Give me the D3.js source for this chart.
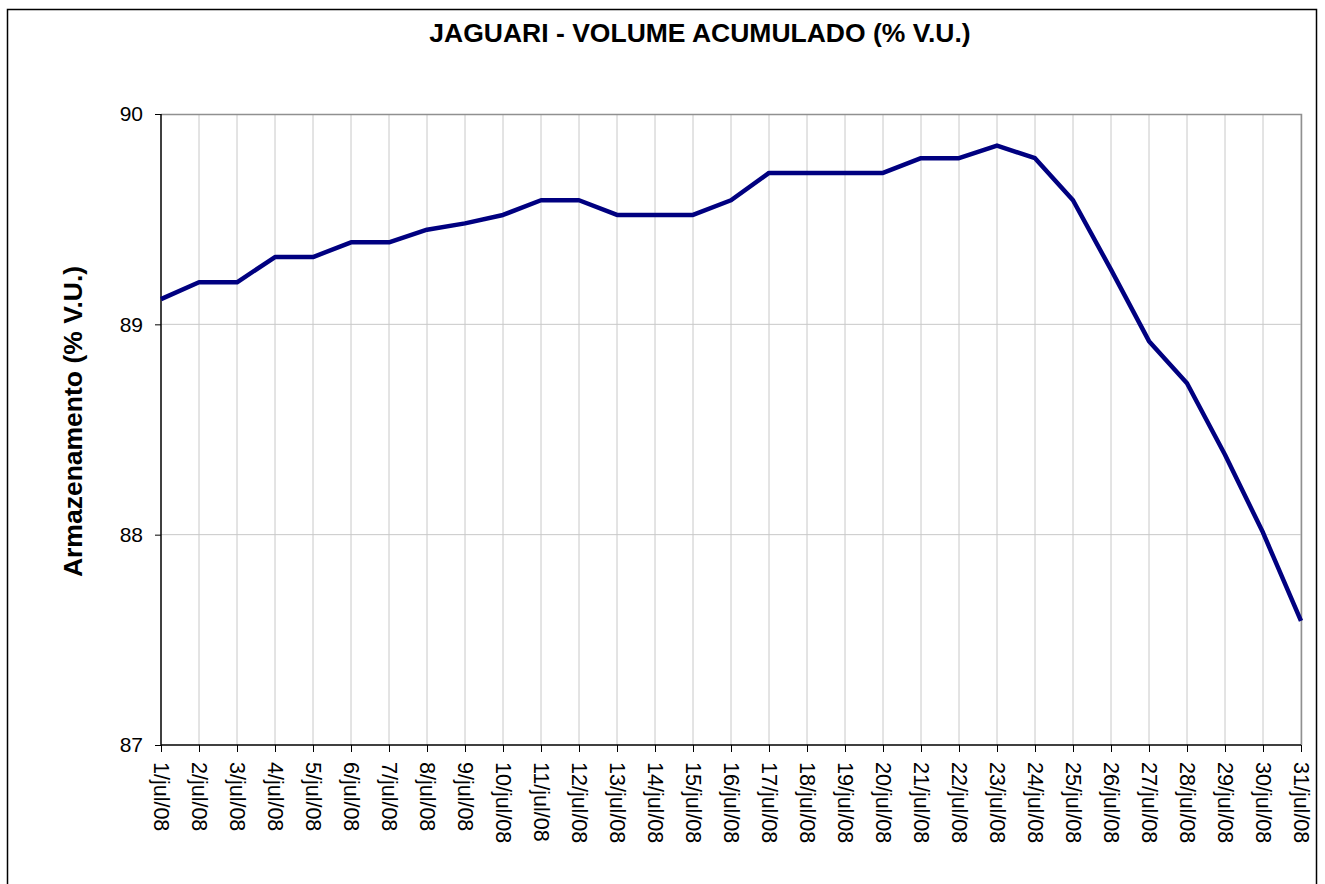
<!DOCTYPE html>
<html>
<head>
<meta charset="utf-8">
<script src="https://cdn.jsdelivr.net/npm/d3@7"></script>
<style>
  body { margin: 0; background: #fff; }
  text { font-family: Arial, "Liberation Sans", sans-serif; }
</style>
</head>
<body>
<div id="chart"></div>
<script>
// data
var days = [];
for (var d = 1; d <= 31; d++) days.push(d + "/jul/08");

var volume = [89.12, 89.20, 89.20, 89.32, 89.32, 89.39, 89.39, 89.45, 89.48, 89.52,
              89.59, 89.59, 89.52, 89.52, 89.52, 89.59, 89.72, 89.72, 89.72, 89.72,
              89.79, 89.79, 89.85, 89.79, 89.59, 89.26, 88.92, 88.72, 88.38, 88.01,
              87.59];

var yTicks = [87, 88, 89, 90];

var width = 1325, height = 884;
var plotLeft = 161, plotRight = 1301, plotTop = 114, plotBottom = 745;

var svg = d3.select("#chart").append("svg")
    .attr("width", width)
    .attr("height", height);

// outer frame
svg.append("rect")
    .attr("x", 7.5).attr("y", 9.5)
    .attr("width", 1309).attr("height", 900)
    .attr("fill", "none")
    .attr("stroke", "#000")
    .attr("stroke-width", 1.5);

var x = d3.scalePoint().domain(days).range([plotLeft, plotRight]);
var y = d3.scaleLinear().domain([87, 90]).range([plotBottom, plotTop]);

// grid
svg.append("g").selectAll("line")
    .data(days.slice(1))
    .enter().append("line")
      .attr("x1", function(e) { return x(e); })
      .attr("x2", function(e) { return x(e); })
      .attr("y1", plotTop).attr("y2", plotBottom)
      .attr("stroke", "#c8c8c8");

svg.append("g").selectAll("line")
    .data([88, 89])
    .enter().append("line")
      .attr("x1", plotLeft).attr("x2", plotRight)
      .attr("y1", function(v) { return y(v); })
      .attr("y2", function(v) { return y(v); })
      .attr("stroke", "#c8c8c8");

// plot area top / right border
svg.append("path")
    .attr("d", "M" + plotLeft + "," + (plotTop + 0.5) + "H" + (plotRight + 0.5) + "V" + plotBottom)
    .attr("fill", "none")
    .attr("stroke", "#909090")
    .attr("stroke-width", 1.5);

// axes
var yAxis = svg.append("g")
    .attr("transform", "translate(" + plotLeft + ",0)")
    .call(d3.axisLeft(y).tickValues(yTicks).tickSize(6).tickPadding(12).tickFormat(d3.format("d")));
yAxis.selectAll("text").attr("font-size", "21px").attr("fill", "#000").style("font-family", "Arial, 'Liberation Sans', sans-serif");
yAxis.select(".domain").attr("d", "M0," + plotTop + "V" + plotBottom).attr("stroke", "#000").attr("stroke-width", 1.5);

var xAxis = svg.append("g")
    .attr("transform", "translate(0," + plotBottom + ")")
    .call(d3.axisBottom(x).tickSize(7).tickPadding(0));
xAxis.select(".domain").attr("d", "M" + plotLeft + ",0H" + plotRight).attr("stroke", "#000").attr("stroke-width", 1.5);
xAxis.selectAll("text")
    .attr("font-size", "21.5px")
    .attr("fill", "#000")
    .style("font-family", "Arial, 'Liberation Sans', sans-serif")
    .attr("text-anchor", "start")
    .attr("dy", "0.35em")
    .attr("transform", "translate(0,17) rotate(90)")
    .attr("x", 0).attr("y", 0);

// series line
var line = d3.line()
    .x(function(v, i) { return x(days[i]); })
    .y(function(v) { return y(v); });

svg.append("path")
    .datum(volume)
    .attr("d", line)
    .attr("fill", "none")
    .attr("stroke", "#000080")
    .attr("stroke-width", 4.5)
    .attr("stroke-linejoin", "round");

// titles
svg.append("text")
    .attr("x", 700).attr("y", 42)
    .attr("text-anchor", "middle")
    .attr("font-size", "26.5px")
    .attr("font-weight", "bold")
    .text("JAGUARI - VOLUME ACUMULADO (% V.U.)");

svg.append("text")
    .attr("transform", "translate(82," + ((plotTop + plotBottom) / 2 - 8) + ") rotate(-90)")
    .attr("text-anchor", "middle")
    .attr("font-size", "26.5px")
    .attr("font-weight", "bold")
    .text("Armazenamento (% V.U.)");
</script>
</body>
</html>
